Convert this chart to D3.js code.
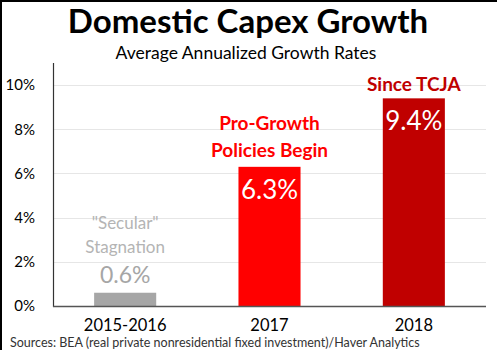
<!DOCTYPE html>
<html><head><meta charset="utf-8">
<script src="https://cdn.jsdelivr.net/npm/d3@7"></script>
<style>
body{margin:0;background:#fff;}
text{font-family:Lato,"Open Sans",sans-serif;}
</style></head>
<body><svg id="c" width="497" height="350"></svg>
<script>
const categories = ["2015-2016", "2017", "2018"];
const values = [0.6, 6.3, 9.4];
const valueLabels = ["0.6%", "6.3%", "9.4%"];
const yTicks = [0, 2, 4, 6, 8, 10];
const barColors = ["#a6a6a6", "#ff0000", "#c00000"];
const annotations = [["\"Secular\"", "Stagnation"], ["Pro-Growth", "Policies Begin"], ["Since TCJA"]];
const annoColors = ["#b4b4b4", "#ff0000", "#c00000"];
const title = "Domestic Capex Growth";
const subtitle = "Average Annualized Growth Rates";
const source = "Sources: BEA (real private nonresidential fixed investment)/Haver Analytics";

const svg = d3.select("#c");
const m = {left: 53, right: 486, top: 63, bottom: 306};

const x = d3.scaleBand().domain(categories).range([m.left, m.right]).paddingInner(0.57).paddingOuter(0.285);
const y = d3.scaleLinear().domain([0, 11]).range([m.bottom, m.top]);

// border
svg.append("line").attr("x1",0).attr("x2",497).attr("y1",1).attr("y2",1).attr("stroke","#000").attr("stroke-width",2);
svg.append("line").attr("x1",1).attr("x2",1).attr("y1",0).attr("y2",350).attr("stroke","#000").attr("stroke-width",2);

// gridlines
svg.append("g").selectAll("line").data(yTicks.filter(d=>d>0)).join("line")
  .attr("x1", m.left).attr("x2", m.right)
  .attr("y1", d=>Math.round(y(d))+0.5).attr("y2", d=>Math.round(y(d))+0.5)
  .attr("stroke", "#e6e6e6").attr("stroke-width", 1);

// y axis
const ya = svg.append("g").attr("transform", `translate(${m.left},0)`)
  .call(d3.axisLeft(y).tickValues(yTicks).tickFormat(d=>d+"%").tickSize(0).tickPadding(18));
ya.select(".domain").remove();
ya.selectAll("text").attr("font-size", 15).attr("fill", "#000").style("font-family","Lato");

// bars
svg.append("g").selectAll("rect").data(values).join("rect")
  .attr("x", (d,i)=>x(categories[i])).attr("width", x.bandwidth())
  .attr("y", d=>y(d)).attr("height", d=>y(0)-y(d))
  .attr("fill", (d,i)=>barColors[i]);

// axis lines
svg.append("line").attr("x1", m.left+0.5).attr("x2", m.left+0.5).attr("y1", m.top).attr("y2", m.bottom+1).attr("stroke","#333").attr("stroke-width",1.2);
svg.append("line").attr("x1", m.left).attr("x2", m.right).attr("y1", m.bottom+0.5).attr("y2", m.bottom+0.5).attr("stroke","#555").attr("stroke-width",1.5);

// x axis labels
const xa = svg.append("g").attr("transform", `translate(0,${m.bottom})`)
  .call(d3.axisBottom(x).tickSize(0).tickPadding(0));
xa.select(".domain").remove();
xa.selectAll("text").attr("font-size", 16.5).attr("fill", "#000").attr("dy", null).attr("y", 24.5).style("font-family","Lato");

// value labels
valueLabels.forEach((t,i)=>{
  const cx = x(categories[i]) + x.bandwidth()/2;
  const inside = i>0;
  svg.append("text").attr("x", cx)
    .attr("y", inside ? y(values[i]) + 32 : y(values[i]) - 10)
    .attr("text-anchor","middle").attr("font-size", inside ? 26 : 23)
    .attr("fill", inside ? "#fff" : "#a6a6a6").text(t);
});

// annotations
const annoBase = [[229, 253], [130, 157], [91]];
annotations.forEach((lines,i)=>{
  const cx = x(categories[i]) + x.bandwidth()/2;
  lines.forEach((l,j)=>{
    svg.append("text").attr("x", cx).attr("y", annoBase[i][j])
      .attr("text-anchor","middle").attr("font-size", i===0?17:19)
      .attr("font-weight", i===0?"normal":"bold")
      .attr("fill", annoColors[i]).text(l);
  });
});

// titles
svg.append("text").attr("x", 248).attr("y", 33).attr("text-anchor","middle")
  .attr("font-size", 33).attr("font-weight","bold").attr("fill","#000").text(title);
svg.append("text").attr("x", 246).attr("y", 59).attr("text-anchor","middle")
  .attr("font-size", 17.5).attr("fill","#000").text(subtitle);
svg.append("text").attr("x", 10).attr("y", 347)
  .attr("font-size", 12.5).attr("fill","#333").text(source);
</script></body></html>
